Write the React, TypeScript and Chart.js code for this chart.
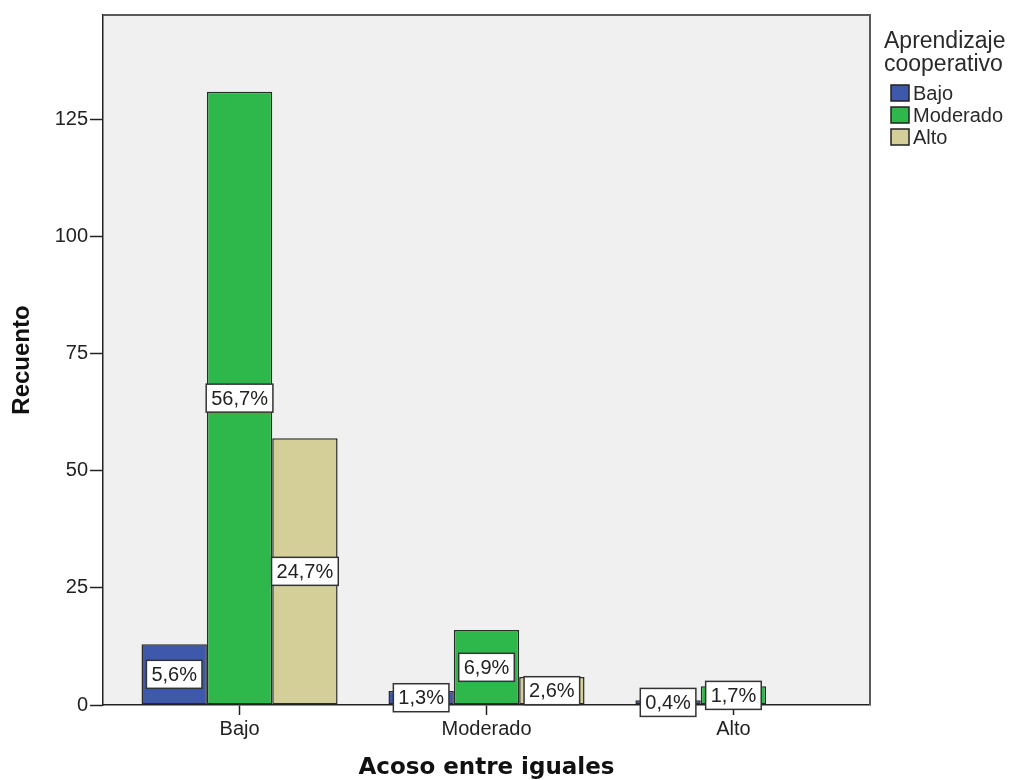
import { useEffect, useRef } from 'react';
import { Chart, registerables } from 'chart.js';

Chart.register(...registerables);

const categories = ['Bajo', 'Moderado', 'Alto'];
const seriesNames = ['Bajo', 'Moderado', 'Alto'];
const bajoCounts = [13, 3, 1];
const moderadoCounts = [131, 16, 4];
const altoCounts = [57, 6, null];
const bajoPercents = ['5,6%', '1,3%', '0,4%'];
const moderadoPercents = ['56,7%', '6,9%', '1,7%'];
const altoPercents = ['24,7%', '2,6%', ''];
const yTickValues = [0, 25, 50, 75, 100, 125];
const seriesColors = ['#3e58ac', '#2eb84b', '#d4cf98'];
const xTitle = 'Acoso entre iguales';
const yTitle = 'Recuento';
const legendTitle = ['Aprendizaje', 'cooperativo'];

const seriesCounts = [bajoCounts, moderadoCounts, altoCounts];
const seriesPercents = [bajoPercents, moderadoPercents, altoPercents];

const plotBackground = {
  id: 'plotBackground',
  beforeDraw(chart: any) {
    const { ctx, chartArea } = chart;
    ctx.save();
    ctx.fillStyle = '#f0f0f0';
    ctx.fillRect(chartArea.left, chartArea.top, chartArea.right - chartArea.left, chartArea.bottom - chartArea.top);
    ctx.restore();
  },
  afterDatasetsDraw(chart: any) {
    const { ctx, chartArea } = chart;
    ctx.save();
    ctx.strokeStyle = '#5a5a5a';
    ctx.lineWidth = 2;
    ctx.beginPath();
    ctx.moveTo(chartArea.left, chartArea.top);
    ctx.lineTo(chartArea.right, chartArea.top);
    ctx.lineTo(chartArea.right, chartArea.bottom);
    ctx.stroke();
    ctx.restore();
  },
};

const barLabels = {
  id: 'barLabels',
  afterDraw(chart: any) {
    const { ctx } = chart;
    ctx.save();
    ctx.font = '20px "Liberation Sans", Arial, sans-serif';
    ctx.textAlign = 'center';
    ctx.textBaseline = 'middle';
    chart.data.datasets.forEach((ds: any, i: number) => {
      const meta = chart.getDatasetMeta(i);
      meta.data.forEach((bar: any, j: number) => {
        const txt = seriesPercents[i][j];
        if (!txt) return;
        const { x, y, base } = bar.getProps(['x', 'y', 'base'], true);
        const cy = (y + base) / 2;
        const w = ctx.measureText(txt).width + 10;
        const h = 28;
        ctx.fillStyle = '#ffffff';
        ctx.fillRect(x - w / 2, cy - h / 2, w, h);
        ctx.strokeStyle = '#333333';
        ctx.lineWidth = 1.5;
        ctx.strokeRect(x - w / 2, cy - h / 2, w, h);
        ctx.fillStyle = '#222222';
        ctx.fillText(txt, x, cy + 1);
      });
    });
    ctx.restore();
  },
};

const customLegend = {
  id: 'customLegend',
  afterDraw(chart: any) {
    const { ctx } = chart;
    ctx.save();
    ctx.fillStyle = '#2a2a2a';
    ctx.textAlign = 'left';
    ctx.textBaseline = 'alphabetic';
    ctx.font = '23px "Liberation Sans", Arial, sans-serif';
    ctx.fillText(legendTitle[0], 884, 48);
    ctx.fillText(legendTitle[1], 884, 71);
    ctx.font = '20px "Liberation Sans", Arial, sans-serif';
    ctx.textBaseline = 'middle';
    chart.data.datasets.forEach((ds: any, k: number) => {
      const top = 85 + k * 22;
      ctx.fillStyle = ds.backgroundColor;
      ctx.fillRect(891, top, 18, 16);
      ctx.strokeStyle = '#222222';
      ctx.lineWidth = 1.5;
      ctx.strokeRect(891, top, 18, 16);
      ctx.fillStyle = '#2a2a2a';
      ctx.fillText(ds.label, 913, top + 9);
    });
    ctx.restore();
  },
};

export default function App() {
  const canvasRef = useRef<HTMLCanvasElement | null>(null);

  useEffect(() => {
    if (!canvasRef.current) return;
    const chart = new Chart(canvasRef.current, {
      type: 'bar',
      data: {
        datasets: seriesNames.map((name, i) => ({
          label: name,
          data: categories.map((_, j) => ({ x: j, y: seriesCounts[i][j] })) as any,
          backgroundColor: seriesColors[i],
          borderColor: '#2a2a2a',
          borderWidth: 1.5,
          borderSkipped: false,
          categoryPercentage: 0.794,
          barPercentage: 1,
        })),
      },
      options: {
        responsive: false,
        animation: false,
        layout: { padding: { left: 0, top: 15, right: 146, bottom: 0 } },
        plugins: {
          legend: { display: false },
          tooltip: { enabled: false },
        },
        scales: {
          x: {
            type: 'linear',
            min: -0.553,
            max: 2.553,
            offset: false,
            afterBuildTicks: (scale: any) => {
              scale.ticks = categories.map((_, j) => ({ value: j }));
            },
            afterFit: (scale: any) => {
              scale.height = 75;
            },
            ticks: {
              autoSkip: false,
              maxRotation: 0,
              padding: 2,
              color: '#222222',
              font: { family: '"Liberation Sans", Arial, sans-serif', size: 20 },
              callback: (v: any) => categories[v as number] ?? '',
            },
            grid: {
              offset: false,
              drawOnChartArea: false,
              drawTicks: true,
              tickLength: 10,
              tickColor: '#222222',
              tickWidth: 1.5,
            },
            border: { display: true, color: '#222222', width: 1.5 },
            title: {
              display: true,
              text: xTitle,
              color: '#111111',
              font: { family: '"DejaVu Sans", sans-serif', size: 23, weight: 'bold', lineHeight: 1.0 },
              padding: { top: 0, bottom: 0 },
            },
          },
          y: {
            type: 'linear',
            min: 0,
            max: 147.4,
            afterBuildTicks: (scale: any) => {
              scale.ticks = yTickValues.map((v) => ({ value: v }));
            },
            afterFit: (scale: any) => {
              scale.width = 103;
            },
            ticks: {
              padding: 2,
              color: '#222222',
              font: { family: '"Liberation Sans", Arial, sans-serif', size: 20 },
            },
            grid: {
              drawOnChartArea: false,
              drawTicks: true,
              tickLength: 13,
              tickColor: '#222222',
              tickWidth: 1.5,
            },
            border: { display: true, color: '#222222', width: 1.5 },
            title: {
              display: true,
              text: yTitle,
              color: '#111111',
              font: { family: '"Liberation Sans", Arial, sans-serif', size: 24, weight: 'bold' },
              padding: { top: 8, bottom: 0 },
            },
          },
        },
      },
      plugins: [plotBackground, barLabels, customLegend],
    });
    return () => chart.destroy();
  }, []);

  return (
    <div style={{ position: 'absolute', left: 0, top: 0, width: 1016, height: 780, background: '#ffffff' }}>
      <canvas ref={canvasRef} width={1016} height={780} style={{ display: 'block' }} />
    </div>
  );
}
